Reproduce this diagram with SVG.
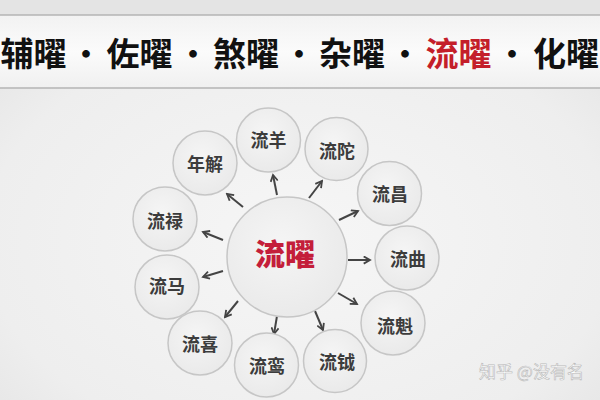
<svg xmlns="http://www.w3.org/2000/svg" width="600" height="400" viewBox="0 0 600 400">
<defs>
<radialGradient id="bg" cx="0.5" cy="0.6" r="0.75">
<stop offset="0" stop-color="#f6f6f6"/>
<stop offset="0.7" stop-color="#eeeeee"/>
<stop offset="1" stop-color="#e2e2e2"/>
</radialGradient>
<linearGradient id="band" x1="0" y1="0" x2="0" y2="1">
<stop offset="0" stop-color="#f2f2f2"/>
<stop offset="0.5" stop-color="#fbfbfb"/>
<stop offset="1" stop-color="#f0f0f0"/>
</linearGradient>
<radialGradient id="node" cx="0.45" cy="0.4" r="0.65">
<stop offset="0" stop-color="#f5f5f5"/>
<stop offset="1" stop-color="#e9e9e9"/>
</radialGradient>
<marker id="ah" viewBox="0 0 10 10" refX="8" refY="5" markerWidth="4.5" markerHeight="4.5" orient="auto" markerUnits="strokeWidth">
<path d="M1,1 L8,5 L1,9" fill="none" stroke="#444" stroke-width="2" stroke-linejoin="miter"/>
</marker>
<style>
.hd{font-family:"Noto Sans CJK SC","Noto Sans",sans-serif;font-weight:bold;font-size:33px;fill:#111;text-anchor:middle}
.dot{font-family:"Noto Sans CJK SC","Noto Sans",sans-serif;font-weight:bold;font-size:30px;fill:#111;text-anchor:middle}
.c{fill:url(#node);stroke:#c6c6c6;stroke-width:1.5}
.t{font-family:"Noto Sans CJK SC",sans-serif;font-weight:bold;font-size:18px;fill:#3c3c3c;text-anchor:middle}
.a{stroke:#444;stroke-width:2;fill:none;marker-end:url(#ah)}
</style>
</defs>
<rect width="600" height="400" fill="url(#bg)"/>
<rect x="0" y="0" width="600" height="15" fill="#e4e4e4"/>
<rect x="0" y="15" width="600" height="73" fill="url(#band)"/>
<line x1="0" y1="15" x2="600" y2="15" stroke="#b4b4b4" stroke-width="1.5"/>
<line x1="0" y1="88" x2="600" y2="88" stroke="#b4b4b4" stroke-width="1.5"/>
<g id="header">
<text class="hd" x="33.5" y="66">辅曜</text>
<text class="dot" x="86" y="65">·</text>
<text class="hd" x="139.5" y="66">佐曜</text>
<text class="dot" x="193" y="65">·</text>
<text class="hd" x="246" y="66">煞曜</text>
<text class="dot" x="299" y="65">·</text>
<text class="hd" x="352" y="66">杂曜</text>
<text class="dot" x="405" y="65">·</text>
<text class="hd" x="458.5" y="66" style="fill:#c41e2a">流曜</text>
<text class="dot" x="512" y="65">·</text>
<text class="hd" x="566" y="66">化曜</text>
</g>
<g id="connectors">
<line class="a" x1="277" y1="195" x2="273" y2="175"/>
<line class="a" x1="309" y1="198" x2="322" y2="181"/>
<line class="a" x1="339" y1="220" x2="358" y2="211"/>
<line class="a" x1="348" y1="260" x2="370" y2="260"/>
<line class="a" x1="338" y1="293" x2="357" y2="304"/>
<line class="a" x1="315" y1="311" x2="323" y2="330"/>
<line class="a" x1="277" y1="316" x2="274" y2="334"/>
<line class="a" x1="238" y1="301" x2="225" y2="317"/>
<line class="a" x1="223" y1="271" x2="203" y2="277"/>
<line class="a" x1="223" y1="240" x2="203" y2="232"/>
<line class="a" x1="243" y1="207" x2="227" y2="194"/>
</g>
<g id="center">
<circle class="c" cx="287" cy="257" r="60"/>
<text x="285" y="265" style="font-family:'Noto Sans CJK SC',sans-serif;font-weight:900;font-size:30px;fill:#c41e3a;text-anchor:middle">流曜</text>
</g>
<g id="n-liuyang"><circle class="c" cx="268.5" cy="140" r="32"/><text class="t" x="268.5" y="147">流羊</text></g>
<g id="n-nianjie"><circle class="c" cx="205" cy="163" r="32"/><text class="t" x="205" y="171">年解</text></g>
<g id="n-liutuo"><circle class="c" cx="336.5" cy="149" r="31.5"/><text class="t" x="337" y="158">流陀</text></g>
<g id="n-liuchang"><circle class="c" cx="389.5" cy="193.5" r="32"/><text class="t" x="390" y="201">流昌</text></g>
<g id="n-liulu"><circle class="c" cx="165" cy="219" r="32"/><text class="t" x="165" y="228">流禄</text></g>
<g id="n-liuma"><circle class="c" cx="167" cy="287" r="32"/><text class="t" x="167" y="293">流马</text></g>
<g id="n-liuqu"><circle class="c" cx="407" cy="258" r="32"/><text class="t" x="408" y="266">流曲</text></g>
<g id="n-liukui"><circle class="c" cx="393" cy="323" r="32"/><text class="t" x="395" y="333">流魁</text></g>
<g id="n-liuxi"><circle class="c" cx="200" cy="343" r="32"/><text class="t" x="200" y="351">流喜</text></g>
<g id="n-liuluan"><circle class="c" cx="266.5" cy="365" r="32"/><text class="t" x="267" y="373">流鸾</text></g>
<g id="n-liuyue"><circle class="c" cx="335" cy="361" r="31.5"/><text class="t" x="337" y="369">流钺</text></g>
<text x="479" y="378" style="font-family:'Noto Sans CJK SC',sans-serif;font-size:17px;fill:#ffffff;stroke:#b8b8b8;stroke-width:0.6">知乎 @没有名</text>
</svg>
